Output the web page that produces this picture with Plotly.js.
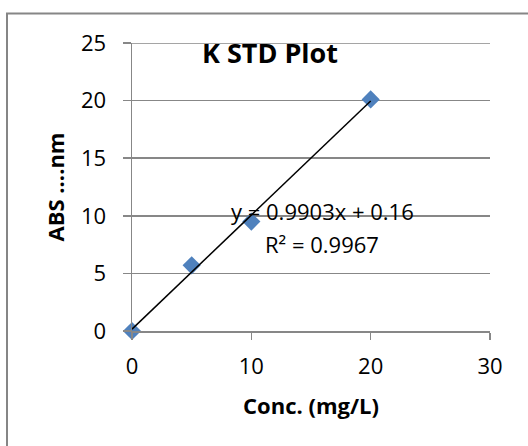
<!DOCTYPE html>
<html>
<head>
<meta charset="utf-8">
<script src="https://cdn.plot.ly/plotly-3.0.1.min.js"></script>
<style>
html,body{margin:0;padding:0;background:#fff;overflow:hidden;width:528px;height:446px;}
#chart{width:528px;height:446px;}
</style>
</head>
<body>
<div id="chart"></div>
<script>
const concentrations = [0, 5, 10, 20];
const absorbance = [0, 5.7, 9.5, 20.1];
const trendSlope = 0.9903;
const trendIntercept = 0.16;
const rSquared = 0.9967;
const xTicks = [0, 10, 20, 30];
const yTicks = [0, 5, 10, 15, 20, 25];

const xMin = Math.min(...concentrations);
const xMax = Math.max(...concentrations);
const trendX = [xMin, xMax];
const trendY = trendX.map(x => trendSlope * x + trendIntercept);

const FONT = '"Open Sans", "Noto Sans", sans-serif';
const GRID = '#878787';
const W = 528, H = 446;
const L = 132, R = 490, T = 42.5, B = 331;
const PW = R - L, PH = B - T;

const traces = [
  {
    x: concentrations, y: absorbance, type: 'scatter', mode: 'markers',
    marker: {symbol: 'diamond', size: 14, color: '#4F81BD', line: {width: 0}},
    cliponaxis: false, showlegend: false, hoverinfo: 'skip'
  },
  {
    x: trendX, y: trendY, type: 'scatter', mode: 'lines',
    line: {color: '#000000', width: 1.5}, cliponaxis: false,
    showlegend: false, hoverinfo: 'skip'
  }
];

const layout = {
  width: W, height: H,
  margin: {l: L, r: W - R, t: T, b: H - B, pad: 0},
  paper_bgcolor: '#ffffff', plot_bgcolor: '#ffffff',
  font: {family: FONT, size: 22, color: '#000'},
  showlegend: false,
  title: {
    text: '<b>K STD Plot</b>', font: {family: FONT, size: 27, color: '#000'},
    xref: 'paper', x: (270 - L) / PW, xanchor: 'center',
    yref: 'container', y: 1 - 54 / H, yanchor: 'middle'
  },
  xaxis: {
    range: [0, 30], tickvals: xTicks, ticktext: xTicks.map(String),
    showgrid: false, zeroline: false,
    showline: true, linecolor: GRID, linewidth: 1.5,
    ticks: 'outside', ticklen: 7, tickcolor: GRID, tickwidth: 1.5,
    ticklabelstandoff: 8,
    tickfont: {family: FONT, size: 22, color: '#000'},
    title: {text: '<b>Conc. (mg/L)</b>', font: {family: FONT, size: 22, color: '#000'}, standoff: 19},
    fixedrange: true
  },
  yaxis: {
    range: [0, 25], tickvals: yTicks, ticktext: yTicks.map(String),
    showgrid: true, gridcolor: GRID, gridwidth: 1.5, zeroline: false,
    showline: true, linecolor: GRID, linewidth: 1.5,
    ticks: 'outside', ticklen: 8, tickcolor: GRID, tickwidth: 1.5,
    ticklabelstandoff: 12,
    tickfont: {family: FONT, size: 22, color: '#000'},
    title: {text: '<b>ABS ....nm</b>', font: {family: FONT, size: 22, color: '#000'}, standoff: 10},
    fixedrange: true
  },
  annotations: [
    {
      text: 'y = ' + trendSlope.toFixed(4) + 'x + ' + trendIntercept.toFixed(2),
      xref: 'paper', yref: 'paper',
      x: (322 - L) / PW, y: (B - 211) / PH,
      xanchor: 'center', yanchor: 'middle', showarrow: false,
      font: {family: FONT, size: 22, color: '#000'}
    },
    {
      text: 'R² = ' + rSquared.toFixed(4),
      xref: 'paper', yref: 'paper',
      x: (322 - L) / PW, y: (B - 244) / PH,
      xanchor: 'center', yanchor: 'middle', showarrow: false,
      font: {family: FONT, size: 22, color: '#000'}
    }
  ],
  shapes: [
    {
      type: 'path', xref: 'paper', yref: 'paper', layer: 'below',
      path: 'M ' + ((7 - L) / PW) + ',' + ((B - 470) / PH) +
            ' L ' + ((7 - L) / PW) + ',' + ((B - 13) / PH) +
            ' L ' + ((W + 20 - L) / PW) + ',' + ((B - 13) / PH),
      line: {color: '#868686', width: 2}
    },
    {
      type: 'line', xref: 'paper', yref: 'y', layer: 'below',
      x0: -8 / PW, x1: 1, y0: yTicks[yTicks.length - 1], y1: yTicks[yTicks.length - 1],
      line: {color: GRID, width: 1.5}
    }
  ]
};

Plotly.newPlot('chart', traces, layout, {staticPlot: true, displayModeBar: false});
</script>
</body>
</html>
